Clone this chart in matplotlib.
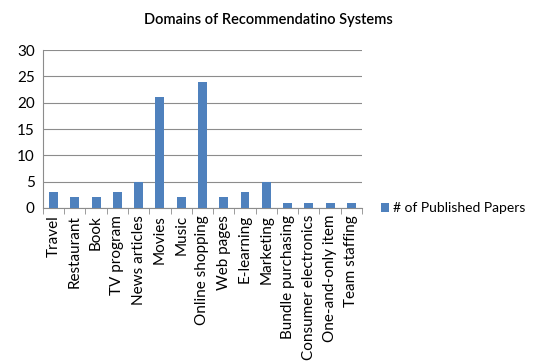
import matplotlib.pyplot as plt

categories = ["Travel", "Restaurant", "Book", "TV program", "News articles", "Movies",
              "Music", "Online shopping", "Web pages", "E-learning", "Marketing",
              "Bundle purchasing", "Consumer electronics", "One-and-only item", "Team staffing"]
papers = [3, 2, 2, 3, 5, 21, 2, 24, 2, 3, 5, 1, 1, 1, 1]

plt.rcParams['font.family'] = ['Lato', 'DejaVu Sans']

fig = plt.figure(figsize=(5.37, 3.63), dpi=100)
ax = fig.add_axes([0.080, 0.427, 0.594, 0.435])

x = list(range(len(categories)))
ax.bar(x, papers, width=0.42, color="#4F81BD", label="# of Published Papers", zorder=3)

ax.set_xlim(-0.5, len(categories) - 0.5)
ax.set_ylim(0, 30)
ax.set_yticks(range(0, 31, 5))
ax.yaxis.grid(True, color="#8c8c8c", linewidth=0.8, zorder=0)
ax.set_xticks(x)
ax.set_xticklabels(categories, rotation=90, fontsize=11)
ax.set_xticks([i - 0.5 for i in range(len(categories) + 1)], minor=True)
ax.tick_params(axis="x", which="major", length=0, pad=5)
ax.tick_params(axis="x", which="minor", length=4, color="#8c8c8c")
ax.tick_params(axis="y", length=0, labelsize=11, pad=6)

for side in ["top", "right"]:
    ax.spines[side].set_visible(False)
ax.spines["left"].set_color("#8c8c8c")
ax.spines["bottom"].set_color("#8c8c8c")

fig.suptitle("Domains of Recommendatino Systems", x=0.5, y=0.965, fontsize=10.5,
             fontweight="semibold")

ax.legend(loc="center left", bbox_to_anchor=(1.02, 0.0), frameon=False, fontsize=10,
          handlelength=0.6, handleheight=0.6, handletextpad=0.3)

fig.savefig("out.png", dpi=100)
